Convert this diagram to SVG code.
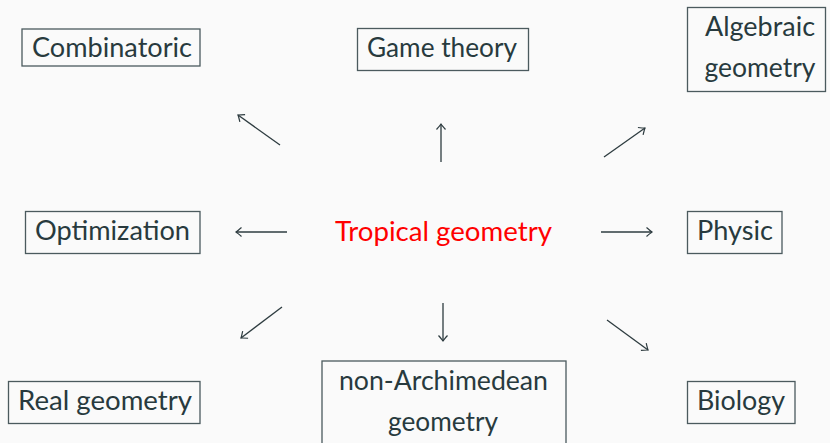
<svg xmlns="http://www.w3.org/2000/svg" width="830" height="443" viewBox="0 0 830 443">
<defs>
<style>
.box{fill:none;stroke:#4b5a5e;stroke-width:1.3}
.t{font-family:Lato,"Liberation Sans",sans-serif;font-size:26px;fill:#283a3e;text-anchor:middle}
.red{fill:#ff0000}
.c line{stroke:#2e3c40;stroke-width:1.3;marker-end:url(#ah)}
</style>
<marker id="ah" viewBox="-10 -6 12 12" markerWidth="12" markerHeight="12" refX="0" refY="0" orient="auto" markerUnits="userSpaceOnUse">
<path d="M-5.5,-4.5 Q-1.5,-1 0,0 Q-1.5,1 -5.5,4.5" fill="none" stroke="#2e3c40" stroke-width="1.2"/>
</marker>
</defs>
<rect width="830" height="443" fill="#fafafa"/>
<g id="combinatoric"><rect class="box" x="22" y="29" width="178" height="37"/><text class="t" x="112" y="57" textLength="160" lengthAdjust="spacingAndGlyphs">Combinatoric</text></g>
<g id="game-theory"><rect class="box" x="357.5" y="28.5" width="171" height="42"/><text class="t" x="442" y="57" textLength="150" lengthAdjust="spacingAndGlyphs">Game theory</text></g>
<g id="algebraic-geometry"><rect class="box" x="687.5" y="7.5" width="138" height="84"/><text class="t" x="760" y="36" textLength="110" lengthAdjust="spacingAndGlyphs">Algebraic</text><text class="t" x="760" y="77" textLength="111" lengthAdjust="spacingAndGlyphs">geometry</text></g>
<g id="optimization"><rect class="box" x="25.5" y="211.5" width="174.5" height="42"/><text class="t" x="112.5" y="240" textLength="155" lengthAdjust="spacingAndGlyphs">Optimization</text></g>
<g id="tropical-geometry"><text class="t red" x="443.5" y="241" textLength="217" lengthAdjust="spacingAndGlyphs">Tropical geometry</text></g>
<g id="physic"><rect class="box" x="687.5" y="211.5" width="94.5" height="42"/><text class="t" x="735" y="240" textLength="76" lengthAdjust="spacingAndGlyphs">Physic</text></g>
<g id="real-geometry"><rect class="box" x="8.5" y="381.5" width="191.5" height="42"/><text class="t" x="105" y="410" textLength="174" lengthAdjust="spacingAndGlyphs">Real geometry</text></g>
<g id="non-archimedean-geometry"><rect class="box" x="322" y="361" width="244" height="90"/><text class="t" x="443.5" y="390" textLength="209" lengthAdjust="spacingAndGlyphs">non-Archimedean</text><text class="t" x="443" y="431" textLength="110" lengthAdjust="spacingAndGlyphs">geometry</text></g>
<g id="biology"><rect class="box" x="687.5" y="381.5" width="107.5" height="42"/><text class="t" x="741" y="410" textLength="88" lengthAdjust="spacingAndGlyphs">Biology</text></g>
<g id="connectors" class="c">
<line x1="280" y1="145" x2="238" y2="115"/>
<line x1="441" y1="162" x2="441" y2="124"/>
<line x1="604" y1="157" x2="645" y2="128"/>
<line x1="287" y1="232" x2="236" y2="232"/>
<line x1="601" y1="232" x2="652" y2="232"/>
<line x1="282" y1="307" x2="241" y2="338"/>
<line x1="443" y1="303" x2="443" y2="341"/>
<line x1="607" y1="320" x2="648" y2="350"/>
</g>
</svg>
